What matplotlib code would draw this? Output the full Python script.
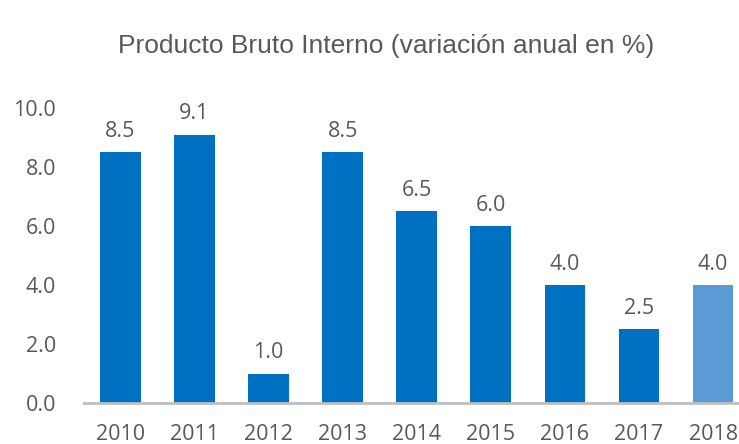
import matplotlib
matplotlib.use('Agg')
import matplotlib.pyplot as plt

years = ['2010', '2011', '2012', '2013', '2014', '2015', '2016', '2017', '2018']
pib = [8.5, 9.1, 1.0, 8.5, 6.5, 6.0, 4.0, 2.5, 4.0]
colores = ['#0070C0'] * 8 + ['#5B9BD5']

gris = '#595959'
fuente = 'Open Sans'

fig = plt.figure(figsize=(7.39, 4.44), dpi=100)
ax = fig.add_axes([84 / 739, 41 / 444, 655 / 739, 295 / 444])

x = range(len(years))
bars = ax.bar(x, pib, width=0.55, color=colores)
for b, v in zip(bars, pib):
    ax.text(b.get_x() + b.get_width() / 2, v + 0.35, f'{v:.1f}', ha='center', va='bottom',
            fontsize=15.5, color=gris, family=fuente)

ax.set_ylim(0, 10)
ax.set_xlim(-0.49, 8.35)
ax.set_yticks([0, 2, 4, 6, 8, 10])
ax.set_yticklabels([f'{t:.1f}' for t in [0, 2, 4, 6, 8, 10]], family=fuente, fontsize=15.5, color=gris)
ax.set_xticks(list(x))
ax.set_xticklabels(years, family=fuente, fontsize=15.5, color=gris)
ax.tick_params(axis='both', length=0)
ax.tick_params(axis='x', pad=15)
ax.tick_params(axis='y', pad=20)
for s in ['top', 'right', 'left']:
    ax.spines[s].set_visible(False)
ax.spines['bottom'].set_color('#BFBFBF')
ax.spines['bottom'].set_linewidth(2)

fig.text(386 / 739, 1 - 46 / 444, 'Producto Bruto Interno (variación anual en %)', ha='center', va='center',
         fontsize=19, color=gris, family='Liberation Sans')

fig.savefig('out.png', dpi=100)
